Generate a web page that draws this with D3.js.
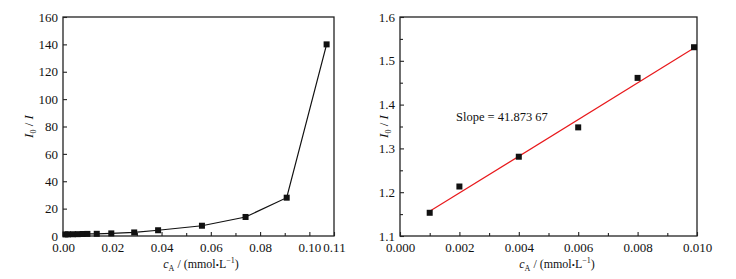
<!DOCTYPE html>
<html>
<head>
<meta charset="utf-8">
<script src="https://cdn.jsdelivr.net/npm/d3@7"></script>
<style>
body { margin: 0; background: #fff; }
text { font-family: "Liberation Serif", "DejaVu Serif", serif; }
</style>
</head>
<body>
<div id="chart"></div>
<script>
var w = 736;
var h = 279;

// left panel: full concentration range
var concAll = [0.001, 0.002, 0.004, 0.006, 0.008, 0.0099, 0.0137, 0.0196, 0.0289, 0.0386, 0.0564, 0.0741, 0.0908, 0.107];
var ratioAll = [1.153, 1.213, 1.281, 1.348, 1.461, 1.531, 1.6, 1.9, 2.6, 4.2, 7.5, 13.9, 28, 140];

// right panel: low concentration range + linear fit
var concLow = [0.001, 0.002, 0.004, 0.006, 0.008, 0.0099];
var ratioLow = [1.153, 1.213, 1.281, 1.348, 1.461, 1.531];
var slope = 41.87367;
var intercept = 1.1145;
var fitRange = [0.001, 0.0099];

var leftTicksX = [0, 0.02, 0.04, 0.06, 0.08, 0.10, 0.11];
var leftMinorX = [0.01, 0.03, 0.05, 0.07, 0.09];
var leftTicksY = [0, 20, 40, 60, 80, 100, 120, 140, 160];
var rightTicksX = [0, 0.002, 0.004, 0.006, 0.008, 0.010];
var rightMinorX = [0.001, 0.003, 0.005, 0.007, 0.009];
var rightTicksY = [1.1, 1.2, 1.3, 1.4, 1.5, 1.6];
var rightMinorY = [1.15, 1.25, 1.35, 1.45, 1.55];

var svg = d3.select("#chart").append("svg")
	.attr("width", w)
	.attr("height", h);

function panel(opt) {
	var x = d3.scaleLinear().domain(opt.xDomain).range([opt.left, opt.right]);
	var y = d3.scaleLinear().domain(opt.yDomain).range([opt.bottom, opt.top]);
	var g = svg.append("g");

	// frame
	g.append("rect")
		.attr("x", opt.left).attr("y", opt.top)
		.attr("width", opt.right - opt.left).attr("height", opt.bottom - opt.top)
		.attr("fill", "none").attr("stroke", "#222").attr("stroke-width", 1.3);

	g.append("g")
		.attr("transform", "translate(0," + opt.bottom + ")")
		.call(d3.axisBottom(x).tickValues(opt.xTicks).tickSize(-4).tickPadding(7).tickFormat(opt.xFmt));
	g.append("g")
		.attr("transform", "translate(0," + opt.bottom + ")")
		.call(d3.axisBottom(x).tickValues(opt.xMinor).tickSize(-3).tickFormat(""));
	g.append("g")
		.attr("transform", "translate(" + opt.left + ",0)")
		.call(d3.axisLeft(y).tickValues(opt.yTicks).tickSize(-4).tickPadding(5).tickFormat(opt.yFmt));
	if (opt.yMinor) {
		g.append("g")
			.attr("transform", "translate(" + opt.left + ",0)")
			.call(d3.axisLeft(y).tickValues(opt.yMinor).tickSize(-3).tickFormat(""));
	}
	g.selectAll(".domain").remove();
	g.selectAll(".tick line").attr("stroke", "#222").attr("stroke-width", 1.1);
	g.selectAll(".tick text").attr("font-size", "13px").attr("fill", "#111")
		.style("font-family", "'Liberation Serif', serif");

	// x label
	var xl = g.append("text")
		.attr("x", opt.xLabelX)
		.attr("y", 268)
		.attr("text-anchor", "middle")
		.attr("font-size", "12px")
		.attr("fill", "#111");
	xl.append("tspan").attr("font-style", "italic").text("c");
	xl.append("tspan").attr("font-size", "8px").attr("dy", 3).text("A");
	xl.append("tspan").attr("dy", -3).text(" / (mmol");
	xl.append("tspan").attr("font-size", "9px").text("\u2022");
	xl.append("tspan").text("L");
	xl.append("tspan").attr("font-size", "8px").attr("dy", -5).text("\u22121");
	xl.append("tspan").attr("dy", 5).text(")");

	// y label
	var yl = g.append("text")
		.attr("transform", "translate(" + opt.yLabelX + "," + ((opt.top + opt.bottom) / 2) + ") rotate(-90)")
		.attr("text-anchor", "middle")
		.attr("font-size", "13px")
		.attr("fill", "#111");
	yl.append("tspan").attr("font-style", "italic").text("I");
	yl.append("tspan").attr("font-size", "8px").attr("dy", 3).text("0");
	yl.append("tspan").attr("dy", -3).text(" / ");
	yl.append("tspan").attr("font-style", "italic").text("I");

	return {g: g, x: x, y: y};
}

// left panel
var L = panel({
	left: 63, right: 334, top: 17, bottom: 236,
	xDomain: [0, 0.11], yDomain: [0, 160],
	xTicks: leftTicksX, xMinor: leftMinorX, yTicks: leftTicksY,
	xFmt: d3.format(".2f"), yFmt: d3.format("d"),
	yLabelX: 33, xLabelX: 201
});

var line = d3.line()
	.x(function (d) { return L.x(d[0]); })
	.y(function (d) { return L.y(d[1]); });
var leftData = concAll.map(function (c, i) { return [c, ratioAll[i]]; });

L.g.append("path")
	.datum(leftData)
	.attr("d", line)
	.attr("fill", "none")
	.attr("stroke", "#111")
	.attr("stroke-width", 1.2);

L.g.selectAll("rect.pt")
	.data(leftData)
	.enter()
	.append("rect")
	.attr("class", "pt")
	.attr("x", function (d) { return L.x(d[0]) - 3; })
	.attr("y", function (d) { return L.y(d[1]) - 3; })
	.attr("width", 6).attr("height", 6)
	.attr("fill", "#111");

// right panel
var R = panel({
	left: 400, right: 697, top: 17, bottom: 236,
	xDomain: [0, 0.010], yDomain: [1.1, 1.6],
	xTicks: rightTicksX, xMinor: rightMinorX, yTicks: rightTicksY, yMinor: rightMinorY,
	xFmt: d3.format(".3f"), yFmt: d3.format(".1f"),
	yLabelX: 388, xLabelX: 557
});

R.g.append("line")
	.attr("x1", R.x(fitRange[0]))
	.attr("y1", R.y(intercept + slope * fitRange[0]))
	.attr("x2", R.x(fitRange[1]))
	.attr("y2", R.y(intercept + slope * fitRange[1]))
	.attr("stroke", "#e8191c")
	.attr("stroke-width", 1.2);

var rightData = concLow.map(function (c, i) { return [c, ratioLow[i]]; });
R.g.selectAll("rect.pt")
	.data(rightData)
	.enter()
	.append("rect")
	.attr("class", "pt")
	.attr("x", function (d) { return R.x(d[0]) - 3; })
	.attr("y", function (d) { return R.y(d[1]) - 3; })
	.attr("width", 6).attr("height", 6)
	.attr("fill", "#111");

R.g.append("text")
	.attr("x", 456)
	.attr("y", 121)
	.attr("font-size", "12.5px")
	.attr("fill", "#111")
	.text("Slope = 41.873 67");
</script>
</body>
</html>
